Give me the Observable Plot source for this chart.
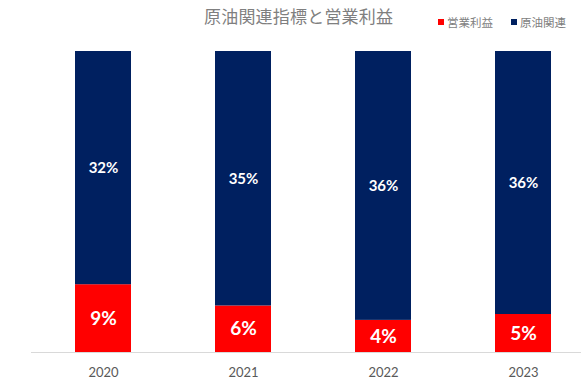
<!DOCTYPE html>
<html>
<head>
<meta charset="utf-8">
<script src="https://cdn.jsdelivr.net/npm/d3@7"></script>
<script src="https://cdn.jsdelivr.net/npm/@observablehq/plot@0.6"></script>
<style>
  html, body { margin: 0; padding: 0; background: #fff; }
  #wrap { position: relative; width: 581px; height: 387px; overflow: hidden; font-family: "Noto Sans CJK JP", sans-serif; }
  #title { position: absolute; left: 204px; top: 3px; font-size: 17px; color: #7f7f7f; white-space: nowrap; letter-spacing: 0.2px; }
  #legend { position: absolute; left: 438px; top: 14px; font-size: 11.5px; color: #7f7f7f; white-space: nowrap; display: flex; align-items: center; }
  .item { display: flex; align-items: center; margin-right: 18px; }
  .sw { width: 6px; height: 6px; margin-right: 3px; display: inline-block; }
  #chart { position: absolute; left: 0; top: 40px; }
</style>
</head>
<body>
<div id="wrap">
  <div id="title"></div>
  <div id="legend"></div>
  <div id="chart"></div>
</div>
<script>
const years = ["2020", "2021", "2022", "2023"];
const operatingProfit = [9.3, 6.4, 4.3, 5.2];   // 営業利益 (%)
const crudeRelated = [32, 35, 36, 36];          // 原油関連 (%)
const seriesNames = ["営業利益", "原油関連"];
const seriesColors = ["#FF0000", "#002060"];
const titleText = "原油関連指標と営業利益";

document.getElementById("title").textContent = titleText;
const legend = document.getElementById("legend");
seriesNames.forEach((name, i) => {
  const it = document.createElement("span");
  it.className = "item";
  const sw = document.createElement("span");
  sw.className = "sw";
  sw.style.background = seriesColors[i];
  it.appendChild(sw);
  it.appendChild(document.createTextNode(name));
  legend.appendChild(it);
});

const data = years.flatMap((year, i) => [
  { year, series: seriesNames[0], value: operatingProfit[i] },
  { year, series: seriesNames[1], value: crudeRelated[i] }
]);

const chart = Plot.plot({
  width: 581,
  height: 347,
  marginTop: 11,
  marginBottom: 35,
  marginLeft: 31,
  marginRight: 0,
  style: { fontFamily: "Lato, sans-serif", background: "transparent" },
  x: { type: "band", domain: years, range: [33, 593], paddingInner: 0.6, paddingOuter: 0.3 },
  y: { axis: null, domain: [0, 1] },
  color: { domain: seriesNames, range: seriesColors },
  marks: [
    Plot.ruleY([0], { stroke: "#d9d9d9", strokeWidth: 1 }),
    Plot.barY(data, { x: "year", y: "value", z: "series", fill: "series", offset: "normalize" }),
    Plot.text(data, Plot.stackY({
      x: "year", y: "value", z: "series", offset: "normalize",
      text: d => Math.round(d.value) + "%",
      fill: "white",
      fontWeight: "bold",
      fontSize: d => d.series === seriesNames[0] ? 19 : 15
    })),
    Plot.axisX({ tickSize: 0, tickPadding: 15, fontSize: 13, fill: "#595959", label: null })
  ]
});
document.getElementById("chart").appendChild(chart);
</script>
</body>
</html>
